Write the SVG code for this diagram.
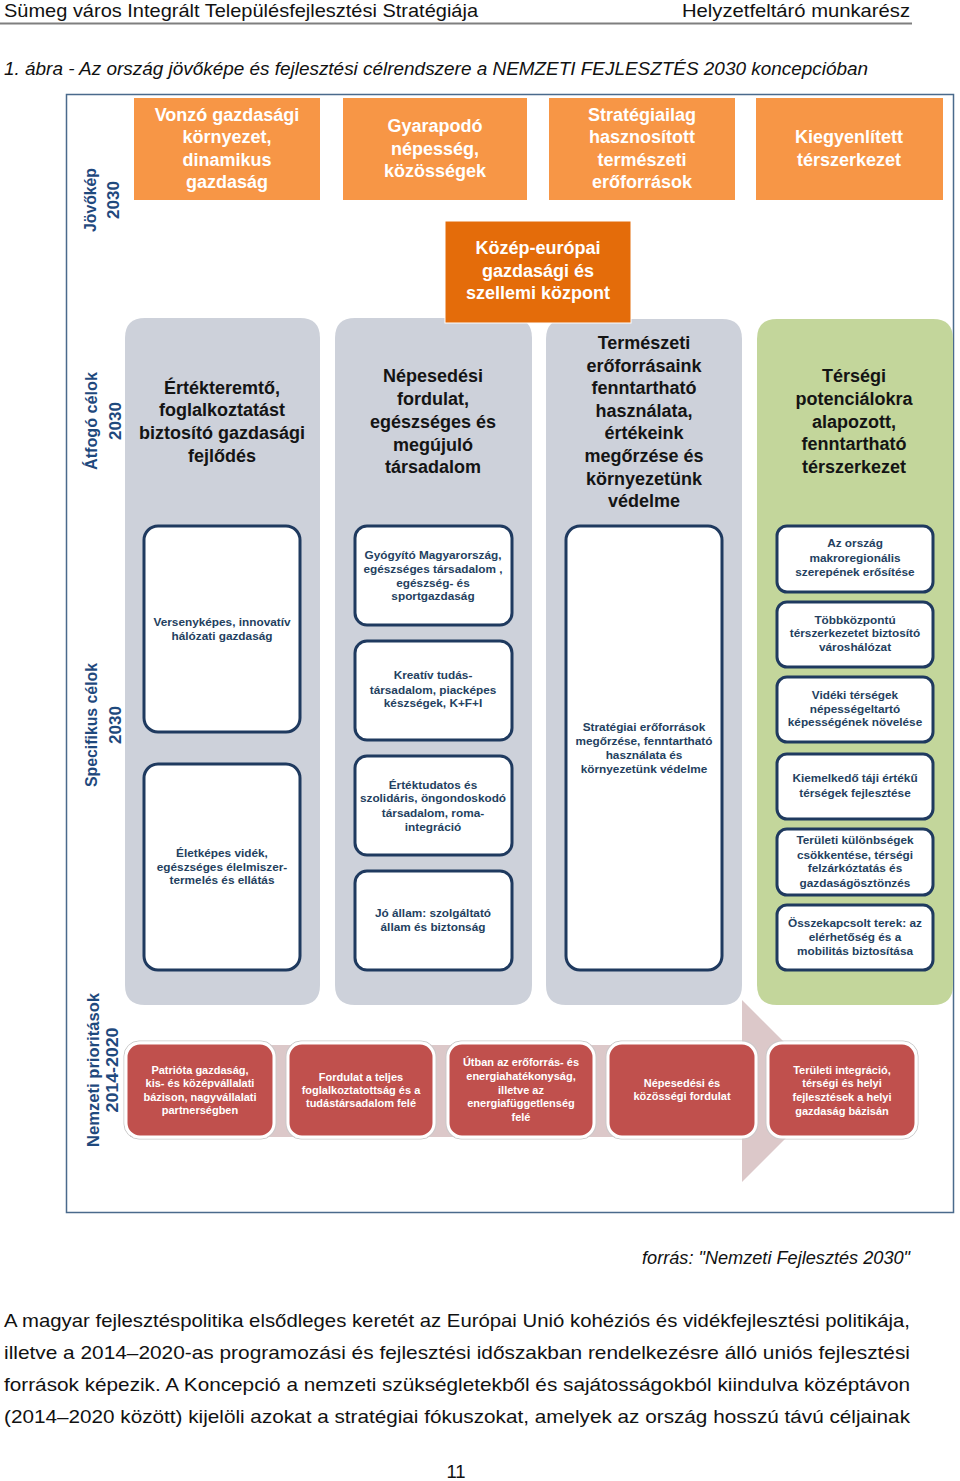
<svg xmlns="http://www.w3.org/2000/svg" width="960" height="1481" viewBox="0 0 960 1481">
<style>
.pg{font-family:"Liberation Sans",Arial,sans-serif;font-size:18.5px;fill:#111}
.it{font-style:italic}
.ax{font-family:"Liberation Sans",Arial,sans-serif;font-weight:bold;font-size:17px;fill:#1F497D;text-anchor:middle}
.ot{font-family:"Liberation Sans",Arial,sans-serif;font-weight:bold;font-size:18px;fill:#fff;text-anchor:middle}
.ht{font-family:"Liberation Sans",Arial,sans-serif;font-weight:bold;font-size:18px;fill:#141414;text-anchor:middle}
.st{font-family:"Liberation Sans",Arial,sans-serif;font-weight:bold;font-size:11.8px;fill:#243F60;text-anchor:middle}
.rt{font-family:"Liberation Sans",Arial,sans-serif;font-weight:bold;font-size:11px;fill:#fff;text-anchor:middle}
.orange{fill:#F79646}
.gray{fill:#CDD1DA}
.green{fill:#C3D69B}
.wb{fill:#fff;stroke:#1F3A5F;stroke-width:3}
.rb{fill:#C0504D;stroke:#fff;stroke-width:3}
.rbo{fill:none;stroke:#C9C9C9;stroke-width:1}
</style>

<!-- page header -->
<text class="pg" x="4" y="17" textLength="474" lengthAdjust="spacingAndGlyphs" font-size="19">Sümeg város Integrált Településfejlesztési Stratégiája</text>
<text class="pg" x="682" y="17" textLength="228" lengthAdjust="spacingAndGlyphs" font-size="19">Helyzetfeltáró munkarész</text>
<line x1="0" y1="23.5" x2="912" y2="23.5" stroke="#7f7f7f" stroke-width="2"/>
<text class="pg it" x="4" y="75" textLength="864" lengthAdjust="spacingAndGlyphs" font-size="19">1. ábra - Az ország jövőképe és fejlesztési célrendszere a NEMZETI FEJLESZTÉS 2030 koncepcióban</text>

<!-- frame -->
<rect x="66.5" y="94.5" width="887" height="1118" fill="#fff" stroke="#4A6A8C" stroke-width="1.5"/>

<!-- axis labels -->
<g id="axis-jovokep">
<text class="ax" transform="translate(96,200) rotate(-90)" textLength="64" lengthAdjust="spacingAndGlyphs">Jövőkép</text>
<text class="ax" transform="translate(119,200) rotate(-90)">2030</text>
</g>
<g id="axis-atfogo">
<text class="ax" transform="translate(97,421) rotate(-90)" textLength="98" lengthAdjust="spacingAndGlyphs">Átfogó célok</text>
<text class="ax" transform="translate(121,421) rotate(-90)">2030</text>
</g>
<g id="axis-specifikus">
<text class="ax" transform="translate(97,725) rotate(-90)" textLength="124" lengthAdjust="spacingAndGlyphs">Specifikus célok</text>
<text class="ax" transform="translate(121,725) rotate(-90)">2030</text>
</g>
<g id="axis-nemzeti">
<text class="ax" transform="translate(99,1070) rotate(-90)" font-size="19" textLength="154" lengthAdjust="spacingAndGlyphs">Nemzeti prioritások</text>
<text class="ax" transform="translate(118,1070) rotate(-90)" font-size="18" textLength="85" lengthAdjust="spacingAndGlyphs">2014-2020</text>
</g>

<!-- Jövőkép boxes -->
<g id="vision-1">
<rect class="orange" x="134" y="98" width="186" height="102"/>
<text class="ot" x="227" y="121">Vonzó gazdasági</text>
<text class="ot" x="227" y="143">környezet,</text>
<text class="ot" x="227" y="166">dinamikus</text>
<text class="ot" x="227" y="188">gazdaság</text>
</g>
<g id="vision-2">
<rect class="orange" x="343" y="98" width="184" height="102"/>
<text class="ot" x="435" y="132">Gyarapodó</text>
<text class="ot" x="435" y="155">népesség,</text>
<text class="ot" x="435" y="177">közösségek</text>
</g>
<g id="vision-3">
<rect class="orange" x="549" y="98" width="186" height="102"/>
<text class="ot" x="642" y="121">Stratégiailag</text>
<text class="ot" x="642" y="143">hasznosított</text>
<text class="ot" x="642" y="166">természeti</text>
<text class="ot" x="642" y="188">erőforrások</text>
</g>
<g id="vision-4">
<rect class="orange" x="756" y="98" width="187" height="102"/>
<text class="ot" x="849" y="143">Kiegyenlített</text>
<text class="ot" x="849" y="166">térszerkezet</text>
</g>

<!-- columns -->
<g id="goal-1">
<path class="gray" d="M125,338 Q125,318 145,318 L300,318 Q320,318 320,338 L320,985 Q320,1005 300,1005 L145,1005 Q125,1005 125,985 Z"/>
<text class="ht" x="222" y="394">Értékteremtő,</text>
<text class="ht" x="222" y="416">foglalkoztatást</text>
<text class="ht" x="222" y="439">biztosító gazdasági</text>
<text class="ht" x="222" y="462">fejlődés</text>
</g>
<g id="goal-2">
<path class="gray" d="M335,338 Q335,318 355,318 L512,318 Q532,318 532,338 L532,985 Q532,1005 512,1005 L355,1005 Q335,1005 335,985 Z"/>
<text class="ht" x="433" y="382">Népesedési</text>
<text class="ht" x="433" y="405">fordulat,</text>
<text class="ht" x="433" y="428">egészséges és</text>
<text class="ht" x="433" y="451">megújuló</text>
<text class="ht" x="433" y="473">társadalom</text>
</g>
<g id="goal-3">
<path class="gray" d="M546,339 Q546,319 566,319 L722,319 Q742,319 742,339 L742,985 Q742,1005 722,1005 L566,1005 Q546,1005 546,985 Z"/>
<text class="ht" x="644" y="349">Természeti</text>
<text class="ht" x="644" y="372">erőforrásaink</text>
<text class="ht" x="644" y="394">fenntartható</text>
<text class="ht" x="644" y="417">használata,</text>
<text class="ht" x="644" y="439">értékeink</text>
<text class="ht" x="644" y="462">megőrzése és</text>
<text class="ht" x="644" y="485">környezetünk</text>
<text class="ht" x="644" y="507">védelme</text>
</g>
<g id="goal-4">
<path class="green" d="M757,339 Q757,319 777,319 L933,319 Q953,319 953,339 L953,985 Q953,1005 933,1005 L777,1005 Q757,1005 757,985 Z"/>
<text class="ht" x="854" y="382">Térségi</text>
<text class="ht" x="854" y="405">potenciálokra</text>
<text class="ht" x="854" y="428">alapozott,</text>
<text class="ht" x="854" y="450">fenntartható</text>
<text class="ht" x="854" y="473">térszerkezet</text>
</g>

<!-- specific goals, column 1 -->
<g id="spec-1-1">
<rect class="wb" x="144" y="526" width="156" height="206" rx="14"/>
<text class="st" x="222" y="626">Versenyképes, innovatív</text>
<text class="st" x="222" y="640">hálózati gazdaság</text>
</g>
<g id="spec-1-2">
<rect class="wb" x="144" y="764" width="156" height="206" rx="14"/>
<text class="st" x="222" y="857">Életképes vidék,</text>
<text class="st" x="222" y="871">egészséges élelmiszer-</text>
<text class="st" x="222" y="884">termelés és ellátás</text>
</g>

<!-- column 2 -->
<g id="spec-2-1">
<rect class="wb" x="355" y="526" width="157" height="99" rx="12"/>
<text class="st" x="433" y="559">Gyógyító Magyarország,</text>
<text class="st" x="433" y="573">egészséges társadalom ,</text>
<text class="st" x="433" y="587">egészség- és</text>
<text class="st" x="433" y="600">sportgazdaság</text>
</g>
<g id="spec-2-2">
<rect class="wb" x="355" y="641" width="157" height="99" rx="12"/>
<text class="st" x="433" y="679">Kreatív tudás-</text>
<text class="st" x="433" y="694">társadalom, piacképes</text>
<text class="st" x="433" y="707">készségek, K+F+I</text>
</g>
<g id="spec-2-3">
<rect class="wb" x="355" y="756" width="157" height="99" rx="12"/>
<text class="st" x="433" y="789">Értéktudatos és</text>
<text class="st" x="433" y="802">szolidáris, öngondoskodó</text>
<text class="st" x="433" y="817">társadalom, roma-</text>
<text class="st" x="433" y="831">integráció</text>
</g>
<g id="spec-2-4">
<rect class="wb" x="355" y="871" width="157" height="99" rx="12"/>
<text class="st" x="433" y="917">Jó állam: szolgáltató</text>
<text class="st" x="433" y="931">állam és biztonság</text>
</g>

<!-- column 3 -->
<g id="spec-3-1">
<rect class="wb" x="566" y="526" width="156" height="444" rx="14"/>
<text class="st" x="644" y="731">Stratégiai erőforrások</text>
<text class="st" x="644" y="745">megőrzése, fenntartható</text>
<text class="st" x="644" y="759">használata és</text>
<text class="st" x="644" y="773">környezetünk védelme</text>
</g>

<!-- column 4 -->
<g id="spec-4-1">
<rect class="wb" x="777" y="526" width="156" height="66" rx="10"/>
<text class="st" x="855" y="547">Az ország</text>
<text class="st" x="855" y="562">makroregionális</text>
<text class="st" x="855" y="576">szerepének erősítése</text>
</g>
<g id="spec-4-2">
<rect class="wb" x="777" y="602" width="156" height="65" rx="10"/>
<text class="st" x="855" y="624">Többközpontú</text>
<text class="st" x="855" y="637">térszerkezetet biztosító</text>
<text class="st" x="855" y="651">városhálózat</text>
</g>
<g id="spec-4-3">
<rect class="wb" x="777" y="677" width="156" height="65" rx="10"/>
<text class="st" x="855" y="699">Vidéki térségek</text>
<text class="st" x="855" y="713">népességeltartó</text>
<text class="st" x="855" y="726">képességének növelése</text>
</g>
<g id="spec-4-4">
<rect class="wb" x="777" y="754" width="156" height="65" rx="10"/>
<text class="st" x="855" y="782">Kiemelkedő táji értékű</text>
<text class="st" x="855" y="797">térségek  fejlesztése</text>
</g>
<g id="spec-4-5">
<rect class="wb" x="777" y="829" width="156" height="66" rx="10"/>
<text class="st" x="855" y="844">Területi különbségek</text>
<text class="st" x="855" y="859">csökkentése, térségi</text>
<text class="st" x="855" y="872">felzárkóztatás és</text>
<text class="st" x="855" y="887">gazdaságösztönzés</text>
</g>
<g id="spec-4-6">
<rect class="wb" x="777" y="905" width="156" height="65" rx="10"/>
<text class="st" x="855" y="927">Összekapcsolt terek: az</text>
<text class="st" x="855" y="941">elérhetőség és a</text>
<text class="st" x="855" y="955">mobilitás biztosítása</text>
</g>

<!-- central vision box -->
<g id="vision-center">
<rect x="445" y="221" width="186" height="102" fill="#E46C0A" stroke="#fff" stroke-width="1"/>
<text class="ot" x="538" y="254" font-size="19">Közép-európai</text>
<text class="ot" x="538" y="277" font-size="19">gazdasági és</text>
<text class="ot" x="538" y="299" font-size="19">szellemi központ</text>
</g>

<!-- priority arrow -->
<g id="connectors">
<polygon points="130,1045 742,1045 742,1000 833,1091 742,1182 742,1137 130,1137" fill="#DCC8C9"/>
</g>

<!-- national priorities -->
<g id="prio-1">
<rect class="rbo" x="124" y="1041" width="152" height="98" rx="15"/>
<rect class="rb" x="126" y="1043" width="148" height="94" rx="14"/>
<text class="rt" x="200" y="1074">Patrióta gazdaság,</text>
<text class="rt" x="200" y="1087">kis- és középvállalati</text>
<text class="rt" x="200" y="1101">bázison, nagyvállalati</text>
<text class="rt" x="200" y="1114">partnerségben</text>
</g>
<g id="prio-2">
<rect class="rbo" x="286" y="1041" width="150" height="98" rx="15"/>
<rect class="rb" x="288" y="1043" width="146" height="94" rx="14"/>
<text class="rt" x="361" y="1081">Fordulat a teljes</text>
<text class="rt" x="361" y="1094">foglalkoztatottság és a</text>
<text class="rt" x="361" y="1107">tudástársadalom felé</text>
</g>
<g id="prio-3">
<rect class="rbo" x="446" y="1041" width="150" height="98" rx="15"/>
<rect class="rb" x="448" y="1043" width="146" height="94" rx="14"/>
<text class="rt" x="521" y="1066">Útban az erőforrás- és</text>
<text class="rt" x="521" y="1080">energiahatékonyság,</text>
<text class="rt" x="521" y="1094">illetve az</text>
<text class="rt" x="521" y="1107">energiafüggetlenség</text>
<text class="rt" x="521" y="1121">felé</text>
</g>
<g id="prio-4">
<rect class="rbo" x="606" y="1041" width="152" height="98" rx="15"/>
<rect class="rb" x="608" y="1043" width="148" height="94" rx="14"/>
<text class="rt" x="682" y="1087">Népesedési és</text>
<text class="rt" x="682" y="1100">közösségi fordulat</text>
</g>
<g id="prio-5">
<rect class="rbo" x="766" y="1041" width="152" height="98" rx="15"/>
<rect class="rb" x="768" y="1043" width="148" height="94" rx="14"/>
<text class="rt" x="842" y="1074">Területi integráció,</text>
<text class="rt" x="842" y="1087">térségi és helyi</text>
<text class="rt" x="842" y="1101">fejlesztések a helyi</text>
<text class="rt" x="842" y="1115">gazdaság bázisán</text>
</g>

<!-- page text -->
<text class="pg it" x="642" y="1264" textLength="268" lengthAdjust="spacingAndGlyphs" font-size="19">forrás: "Nemzeti Fejlesztés 2030"</text>
<text class="pg" x="4" y="1327" textLength="906" lengthAdjust="spacingAndGlyphs">A magyar fejlesztéspolitika elsődleges keretét az Európai Unió kohéziós és vidékfejlesztési politikája,</text>
<text class="pg" x="4" y="1359" textLength="906" lengthAdjust="spacingAndGlyphs">illetve a 2014–2020-as programozási és fejlesztési időszakban rendelkezésre álló uniós fejlesztési</text>
<text class="pg" x="4" y="1391" textLength="906" lengthAdjust="spacingAndGlyphs">források képezik. A Koncepció a nemzeti szükségletekből és sajátosságokból kiindulva középtávon</text>
<text class="pg" x="4" y="1423" textLength="906" lengthAdjust="spacingAndGlyphs">(2014–2020 között) kijelöli azokat a stratégiai fókuszokat, amelyek az ország hosszú távú céljainak</text>
<text class="pg" x="456" y="1478" text-anchor="middle" font-size="19">11</text>
</svg>
